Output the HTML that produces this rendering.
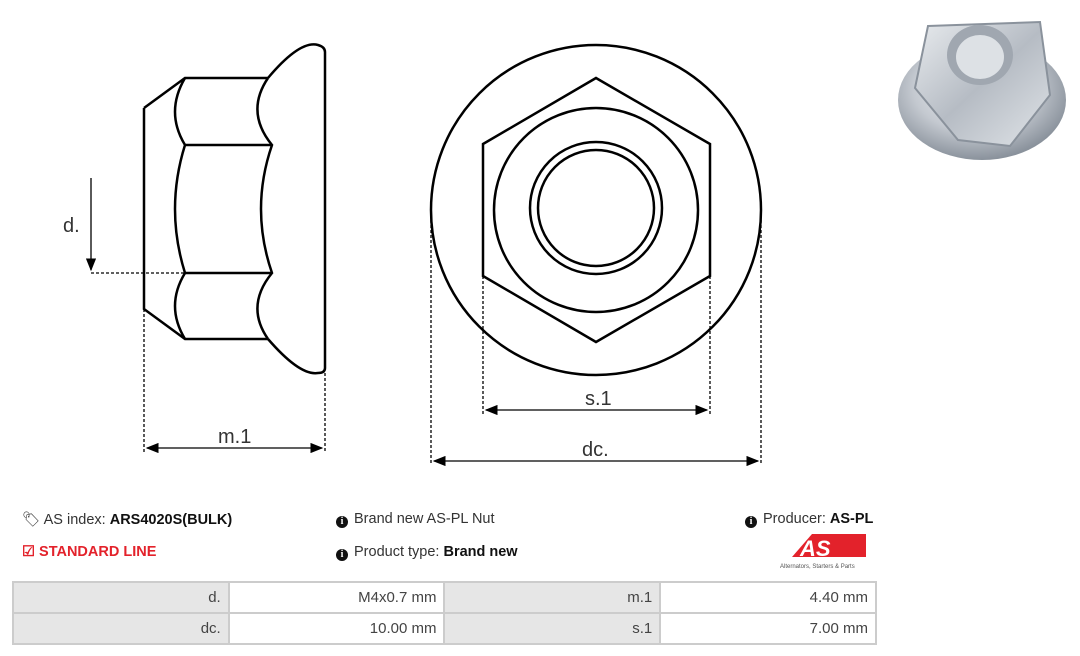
<!DOCTYPE html>
<html><head><meta charset="utf-8"><style>
body{margin:0;width:1080px;height:656px;background:#fff;font-family:"Liberation Sans",sans-serif;position:relative;overflow:hidden}
.t{position:absolute;font-size:14.5px;color:#333;white-space:nowrap}
.t b{color:#111}
table{position:absolute;left:12px;top:581px;border-collapse:collapse;width:865px}
td{border:2px solid #ccc;height:29px;font-size:15px;color:#444;text-align:right;padding:0 7px;width:200px}
td.g{background:#e6e6e6}
.i{display:inline-block;width:12px;height:12px;border-radius:50%;background:#111;color:#fff;font-size:10px;line-height:12px;text-align:center;font-weight:bold;font-family:"Liberation Serif",serif;margin-right:6px;vertical-align:-1px}
</style></head><body>
<svg width="1080" height="656" style="position:absolute;left:0;top:0">
<defs>
<marker id="a" markerWidth="10" markerHeight="8" refX="9" refY="4" orient="auto-start-reverse"><path d="M0,0 L10,4 L0,8 Z" fill="#000"/></marker>
<radialGradient id="m" cx="45%" cy="40%" r="60%"><stop offset="0" stop-color="#f4f6f8"/><stop offset="0.6" stop-color="#c4c9d0"/><stop offset="1" stop-color="#8a929c"/></radialGradient>
<linearGradient id="h" x1="0" y1="0" x2="1" y2="1"><stop offset="0" stop-color="#e8ebee"/><stop offset="0.5" stop-color="#b6bcc4"/><stop offset="1" stop-color="#e0e4e8"/></linearGradient>
</defs>
<g fill="none" stroke="#000" stroke-width="2.5">
<path d="M144,108 L185,78 L268,78 M144,108 L144,309 L185,339 L268,339"/>
<path d="M185,145 L272,145 M185,273 L272,273"/>
<path d="M185,78 Q165,112 185,145 Q165,209 185,273 Q165,306 185,339"/>
<path d="M268,78 Q245,112 272,145 Q250,209 272,273 Q245,306 268,339"/>
<path d="M268,78 Q300,40 318,45 Q325,47 325,52 L325,368 Q325,373 318,373 Q300,376 268,339"/>
<circle cx="596" cy="210" r="165"/>
<path d="M596,78 L710,144 L710,276 L596,342 L483,276 L483,144 Z"/>
<circle cx="596" cy="210" r="102"/>
<circle cx="596" cy="208" r="66"/>
<circle cx="596" cy="208" r="58"/>
</g>
<g stroke="#000" stroke-width="1.3" stroke-dasharray="3,2" fill="none">
<path d="M144,309 V452 M325,373 V452 M483,276 V414 M710,276 V414 M431,215 V465 M761,215 V465 M91,273 H185"/>
</g>
<g stroke="#000" stroke-width="1.3">
<line x1="147" y1="448" x2="322" y2="448" marker-start="url(#a)" marker-end="url(#a)"/>
<line x1="486" y1="410" x2="707" y2="410" marker-start="url(#a)" marker-end="url(#a)"/>
<line x1="434" y1="461" x2="758" y2="461" marker-start="url(#a)" marker-end="url(#a)"/>
<line x1="91" y1="178" x2="91" y2="270" marker-end="url(#a)"/>
</g>
<g font-family="Liberation Sans,sans-serif" font-size="20" fill="#333">
<text x="63" y="232">d.</text>
<text x="218" y="443">m.1</text>
<text x="585" y="405">s.1</text>
<text x="582" y="456">dc.</text>
</g>
<ellipse cx="982" cy="100" rx="84" ry="60" fill="url(#m)"/>
<path d="M928,26 L1040,22 L1050,95 L1010,146 L958,140 L915,88 Z" fill="url(#h)" stroke="#8a929c" stroke-width="2"/>
<ellipse cx="980" cy="55" rx="33" ry="30" fill="#a0a7b0"/>
<ellipse cx="980" cy="57" rx="24" ry="22" fill="#dde1e5"/>
<path d="M792,557 L812,534 L866,534 L866,557 Z" fill="#e3222b"/>
<text x="800" y="556" font-size="22" font-weight="bold" font-style="italic" fill="#fff" font-family="Liberation Sans,sans-serif">AS</text>
<text x="780" y="568" font-size="6" fill="#555" font-family="Liberation Sans,sans-serif">Alternators, Starters &amp; Parts</text>
</svg>
<div class="t" style="left:22px;top:511px">🏷 AS index: <b>ARS4020S(BULK)</b></div>
<div class="t" style="left:22px;top:544px;color:#e3222b;font-weight:bold">☑ STANDARD LINE</div>
<div class="t" style="left:336px;top:511px"><span class="i">i</span>Brand new AS-PL Nut</div>
<div class="t" style="left:336px;top:544px"><span class="i">i</span>Product type: <b>Brand new</b></div>
<div class="t" style="left:745px;top:511px"><span class="i">i</span>Producer: <b>AS-PL</b></div>
<table>
<tr><td class="g">d.</td><td>M4x0.7 mm</td><td class="g">m.1</td><td>4.40 mm</td></tr>
<tr><td class="g">dc.</td><td>10.00 mm</td><td class="g">s.1</td><td>7.00 mm</td></tr>
</table>
</body></html>
